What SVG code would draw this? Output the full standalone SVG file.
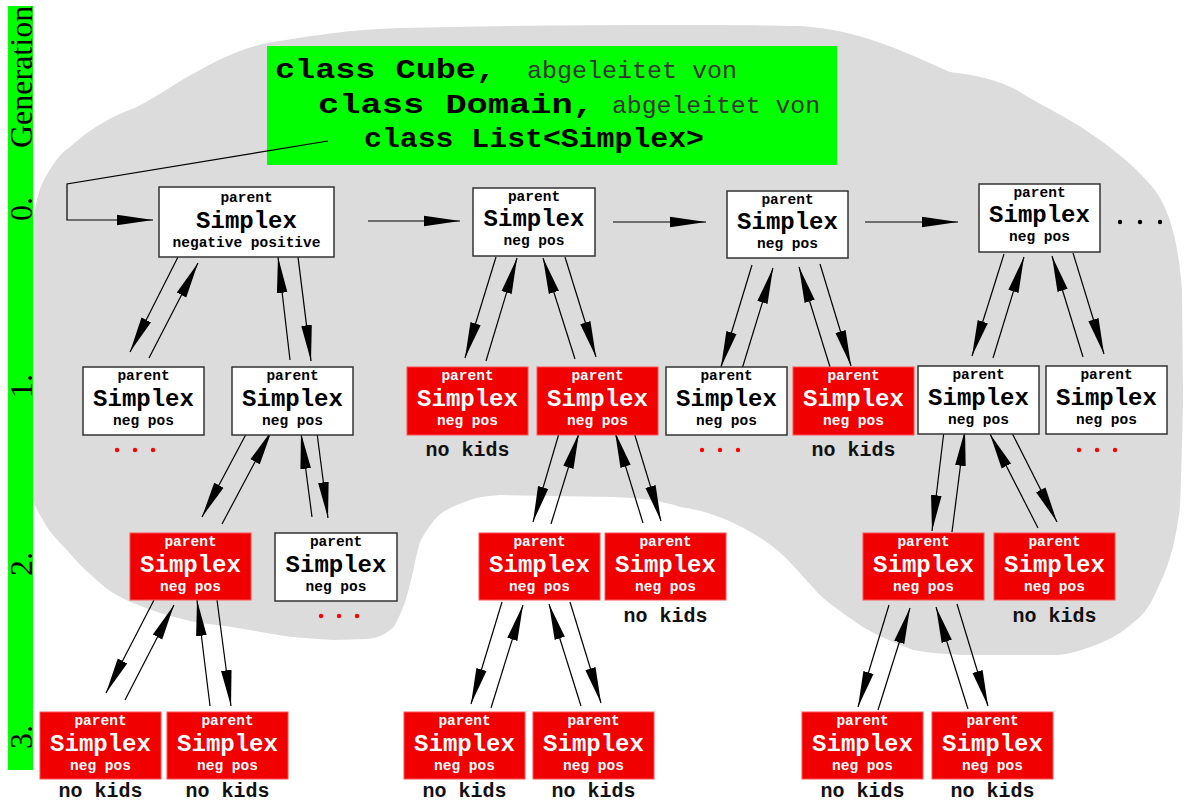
<svg xmlns="http://www.w3.org/2000/svg" width="1184" height="802" viewBox="0 0 1184 802">
<style>
.nw{fill:#fff;stroke:#333;stroke-width:1.5}
.nr{fill:#f00000;stroke:#ff5050;stroke-width:1}
.tp{font-family:"Liberation Mono",monospace;font-weight:bold;font-size:14.5px;text-anchor:middle}
.ts{font-family:"Liberation Mono",monospace;font-weight:bold;font-size:24px;text-anchor:middle}
.w{fill:#fff}
.k{fill:#000}
.nk{font-family:"Liberation Mono",monospace;font-weight:bold;font-size:20px;text-anchor:middle;fill:#111}
.gen{font-family:"Liberation Serif",serif;font-size:32px;fill:#000}
.hb{font-family:"Liberation Mono",monospace;font-weight:bold;font-size:28px;fill:#000}
.hn{font-family:"Liberation Mono",monospace;font-size:24px;fill:#333}
.c line,.c polyline{stroke:#000;stroke-width:1.2;fill:none;marker-end:url(#ah)}
.rd{fill:#f00}
</style>
<defs>
<marker id="ah" markerUnits="userSpaceOnUse" markerWidth="36" markerHeight="12" refX="34" refY="5" orient="auto" viewBox="0 0 34 10">
<path d="M0,0 L34,5 L0,10 Z" fill="#000"/>
</marker>
</defs>
<rect width="1184" height="802" fill="#fff"/>
<path id="blob" fill="#dcdcdc" d="M33,500 L33,222 C36,200 40,186 45,178 C55,160 62,152 70,147 C95,125 115,115 135,108 C160,95 180,80 200,70 C225,56 245,48 267,43 C300,38 340,30 400,28 C520,25 700,24 800,26 C860,30 900,50 950,72 C975,75 1000,80 1020,92 C1040,105 1070,118 1100,140 C1125,158 1140,172 1155,190 C1170,212 1178,240 1182,290 L1183,400 C1182,450 1181,480 1180,507 C1176,540 1170,560 1165,572 C1155,595 1150,607 1140,617 C1125,630 1115,637 1105,641 C1085,650 1070,654 1057,655 L963,655 C940,654 925,652 913,650 C895,643 878,636 863,627 C845,615 833,606 823,598 C810,585 805,578 797,570 C780,550 765,540 747,530 C720,515 700,510 680,507 C660,500 640,498 613,497 L500,495 C488,496 478,497 470,500 C455,505 445,510 438,516 C430,525 425,532 420,542 C416,555 414,568 411,580 C407,598 402,612 395,625 C388,634 378,638 367,639 L333,640 C300,638 280,636 267,633 C240,628 220,625 200,623 C170,617 150,610 133,603 C115,595 108,590 100,583 C85,570 75,560 67,550 C55,538 48,530 43,520 C38,512 35,506 33,500 Z"/>
<g id="genbar">
<rect x="8" y="6" width="25" height="764" fill="#00ff00"/>
<text class="gen" transform="translate(32,148) rotate(-90)">Generation</text>
<text class="gen" transform="translate(32,221) rotate(-90)">0.</text>
<text class="gen" transform="translate(32,398) rotate(-90)">1.</text>
<text class="gen" transform="translate(32,576) rotate(-90)">2.</text>
<text class="gen" transform="translate(32,749) rotate(-90)">3.</text>
</g>
<g id="header">
<rect x="267" y="46" width="570" height="119" fill="#00ff00"/>
<text class="hb" x="275" y="78" textLength="221" lengthAdjust="spacingAndGlyphs">class Cube,</text>
<text class="hn" x="527" y="78" textLength="210" lengthAdjust="spacingAndGlyphs">abgeleitet von</text>
<text class="hb" x="318" y="113" textLength="276" lengthAdjust="spacingAndGlyphs">class Domain,</text>
<text class="hn" x="612" y="113" textLength="208" lengthAdjust="spacingAndGlyphs">abgeleitet von</text>
<text class="hb" x="364" y="147" textLength="340" lengthAdjust="spacingAndGlyphs">class List&lt;Simplex&gt;</text>
</g>
<g id="connectors" class="c">
<polyline points="328,141 67,184 67,220 153,220"/>
<line x1="368" y1="221" x2="460" y2="221"/>
<line x1="613" y1="222" x2="706" y2="222"/>
<line x1="865" y1="222" x2="958" y2="222"/>
<line x1="178" y1="257" x2="130" y2="352"/>
<line x1="149" y1="358" x2="198" y2="263"/>
<line x1="290" y1="360" x2="278" y2="257"/>
<line x1="298" y1="257" x2="311" y2="361"/>
<line x1="496" y1="257" x2="465" y2="358"/>
<line x1="486" y1="361" x2="517" y2="258"/>
<line x1="575" y1="359" x2="543" y2="258"/>
<line x1="565" y1="257" x2="596" y2="357"/>
<line x1="752" y1="265" x2="721" y2="367"/>
<line x1="742" y1="369" x2="773" y2="268"/>
<line x1="830" y1="367" x2="799" y2="267"/>
<line x1="820" y1="264" x2="851" y2="366"/>
<line x1="1004" y1="254" x2="972" y2="356"/>
<line x1="993" y1="358" x2="1024" y2="257"/>
<line x1="1083" y1="357" x2="1052" y2="256"/>
<line x1="1073" y1="253" x2="1104" y2="354"/>
<line x1="252" y1="423" x2="202" y2="517"/>
<line x1="222" y1="524" x2="272" y2="430"/>
<line x1="312" y1="517" x2="301" y2="433"/>
<line x1="317" y1="433" x2="328" y2="518"/>
<line x1="560" y1="430" x2="533" y2="522"/>
<line x1="551" y1="524" x2="579" y2="433"/>
<line x1="643" y1="523" x2="615" y2="432"/>
<line x1="633" y1="429" x2="661" y2="521"/>
<line x1="944" y1="431" x2="932" y2="531"/>
<line x1="952" y1="532" x2="965" y2="430"/>
<line x1="1038" y1="528" x2="990" y2="434"/>
<line x1="1009" y1="427" x2="1057" y2="522"/>
<line x1="154" y1="600" x2="106" y2="693"/>
<line x1="125" y1="700" x2="174" y2="605"/>
<line x1="210" y1="706" x2="197" y2="600"/>
<line x1="217" y1="600" x2="231" y2="706"/>
<line x1="502" y1="602" x2="471" y2="704"/>
<line x1="491" y1="708" x2="523" y2="605"/>
<line x1="581" y1="706" x2="549" y2="604"/>
<line x1="570" y1="602" x2="601" y2="703"/>
<line x1="889" y1="605" x2="858" y2="707"/>
<line x1="878" y1="710" x2="910" y2="608"/>
<line x1="968" y1="709" x2="936" y2="607"/>
<line x1="957" y1="604" x2="988" y2="706"/>
</g>
<!-- Generation 0 -->
<g id="g0a"><rect class="nw" x="159" y="187" width="175" height="70"/>
<text class="tp k" x="246.5" y="202">parent</text><text class="ts k" x="246.5" y="228">Simplex</text><text class="tp k" x="246.5" y="247">negative positive</text></g>
<g id="g0b"><rect class="nw" x="473" y="188" width="122" height="68"/>
<text class="tp k" x="534" y="201">parent</text><text class="ts k" x="534" y="226">Simplex</text><text class="tp k" x="534" y="245">neg pos</text></g>
<g id="g0c"><rect class="nw" x="727" y="191" width="121" height="67"/>
<text class="tp k" x="787.5" y="204">parent</text><text class="ts k" x="787.5" y="229">Simplex</text><text class="tp k" x="787.5" y="248">neg pos</text></g>
<g id="g0d"><rect class="nw" x="979" y="184" width="121" height="68"/>
<text class="tp k" x="1039.5" y="197">parent</text><text class="ts k" x="1039.5" y="222">Simplex</text><text class="tp k" x="1039.5" y="241">neg pos</text></g>
<g id="more0"><circle cx="1120" cy="222" r="2.2"/><circle cx="1140" cy="222" r="2.2"/><circle cx="1160" cy="222" r="2.2"/></g>
<!-- Generation 1 -->
<g id="g1a"><rect class="nw" x="83" y="367" width="121" height="68"/>
<text class="tp k" x="143.5" y="380">parent</text><text class="ts k" x="143.5" y="406">Simplex</text><text class="tp k" x="143.5" y="425">neg pos</text>
<circle class="rd" cx="117" cy="450" r="2.2"/><circle class="rd" cx="135" cy="450" r="2.2"/><circle class="rd" cx="153" cy="450" r="2.2"/></g>
<g id="g1b"><rect class="nw" x="232" y="367" width="121" height="68"/>
<text class="tp k" x="292.5" y="380">parent</text><text class="ts k" x="292.5" y="406">Simplex</text><text class="tp k" x="292.5" y="425">neg pos</text></g>
<g id="g1c"><rect class="nr" x="407" y="367" width="121" height="68"/>
<text class="tp w" x="467.5" y="380">parent</text><text class="ts w" x="467.5" y="406">Simplex</text><text class="tp w" x="467.5" y="425">neg pos</text>
<text class="nk" x="467.5" y="456">no kids</text></g>
<g id="g1d"><rect class="nr" x="537" y="367" width="121" height="68"/>
<text class="tp w" x="597.5" y="380">parent</text><text class="ts w" x="597.5" y="406">Simplex</text><text class="tp w" x="597.5" y="425">neg pos</text></g>
<g id="g1e"><rect class="nw" x="666" y="367" width="121" height="68"/>
<text class="tp k" x="726.5" y="380">parent</text><text class="ts k" x="726.5" y="406">Simplex</text><text class="tp k" x="726.5" y="425">neg pos</text>
<circle class="rd" cx="702" cy="450" r="2.2"/><circle class="rd" cx="720" cy="450" r="2.2"/><circle class="rd" cx="738" cy="450" r="2.2"/></g>
<g id="g1f"><rect class="nr" x="793" y="367" width="121" height="68"/>
<text class="tp w" x="853.5" y="380">parent</text><text class="ts w" x="853.5" y="406">Simplex</text><text class="tp w" x="853.5" y="425">neg pos</text>
<text class="nk" x="853.5" y="456">no kids</text></g>
<g id="g1g"><rect class="nw" x="918" y="366" width="121" height="68"/>
<text class="tp k" x="978.5" y="379">parent</text><text class="ts k" x="978.5" y="405">Simplex</text><text class="tp k" x="978.5" y="424">neg pos</text></g>
<g id="g1h"><rect class="nw" x="1046" y="366" width="121" height="68"/>
<text class="tp k" x="1106.5" y="379">parent</text><text class="ts k" x="1106.5" y="405">Simplex</text><text class="tp k" x="1106.5" y="424">neg pos</text>
<circle class="rd" cx="1079" cy="450" r="2.2"/><circle class="rd" cx="1097" cy="450" r="2.2"/><circle class="rd" cx="1115" cy="450" r="2.2"/></g>
<!-- Generation 2 -->
<g id="g2a"><rect class="nr" x="130" y="533" width="121" height="67"/>
<text class="tp w" x="190.5" y="546">parent</text><text class="ts w" x="190.5" y="572">Simplex</text><text class="tp w" x="190.5" y="591">neg pos</text></g>
<g id="g2b"><rect class="nw" x="275" y="533" width="122" height="68"/>
<text class="tp k" x="336" y="546">parent</text><text class="ts k" x="336" y="572">Simplex</text><text class="tp k" x="336" y="591">neg pos</text>
<circle class="rd" cx="321" cy="616" r="2.2"/><circle class="rd" cx="339" cy="616" r="2.2"/><circle class="rd" cx="357" cy="616" r="2.2"/></g>
<g id="g2c"><rect class="nr" x="479" y="533" width="121" height="67"/>
<text class="tp w" x="539.5" y="546">parent</text><text class="ts w" x="539.5" y="572">Simplex</text><text class="tp w" x="539.5" y="591">neg pos</text></g>
<g id="g2d"><rect class="nr" x="605" y="533" width="121" height="67"/>
<text class="tp w" x="665.5" y="546">parent</text><text class="ts w" x="665.5" y="572">Simplex</text><text class="tp w" x="665.5" y="591">neg pos</text>
<text class="nk" x="665.5" y="622">no kids</text></g>
<g id="g2e"><rect class="nr" x="863" y="533" width="121" height="67"/>
<text class="tp w" x="923.5" y="546">parent</text><text class="ts w" x="923.5" y="572">Simplex</text><text class="tp w" x="923.5" y="591">neg pos</text></g>
<g id="g2f"><rect class="nr" x="994" y="533" width="121" height="67"/>
<text class="tp w" x="1054.5" y="546">parent</text><text class="ts w" x="1054.5" y="572">Simplex</text><text class="tp w" x="1054.5" y="591">neg pos</text>
<text class="nk" x="1054.5" y="622">no kids</text></g>
<!-- Generation 3 -->
<g id="g3a"><rect class="nr" x="40" y="712" width="121" height="67"/>
<text class="tp w" x="100.5" y="725">parent</text><text class="ts w" x="100.5" y="751">Simplex</text><text class="tp w" x="100.5" y="770">neg pos</text>
<text class="nk" x="100.5" y="797">no kids</text></g>
<g id="g3b"><rect class="nr" x="167" y="712" width="121" height="67"/>
<text class="tp w" x="227.5" y="725">parent</text><text class="ts w" x="227.5" y="751">Simplex</text><text class="tp w" x="227.5" y="770">neg pos</text>
<text class="nk" x="227.5" y="797">no kids</text></g>
<g id="g3c"><rect class="nr" x="404" y="712" width="121" height="67"/>
<text class="tp w" x="464.5" y="725">parent</text><text class="ts w" x="464.5" y="751">Simplex</text><text class="tp w" x="464.5" y="770">neg pos</text>
<text class="nk" x="464.5" y="797">no kids</text></g>
<g id="g3d"><rect class="nr" x="533" y="712" width="121" height="67"/>
<text class="tp w" x="593.5" y="725">parent</text><text class="ts w" x="593.5" y="751">Simplex</text><text class="tp w" x="593.5" y="770">neg pos</text>
<text class="nk" x="593.5" y="797">no kids</text></g>
<g id="g3e"><rect class="nr" x="802" y="712" width="121" height="67"/>
<text class="tp w" x="862.5" y="725">parent</text><text class="ts w" x="862.5" y="751">Simplex</text><text class="tp w" x="862.5" y="770">neg pos</text>
<text class="nk" x="862.5" y="797">no kids</text></g>
<g id="g3f"><rect class="nr" x="932" y="712" width="121" height="67"/>
<text class="tp w" x="992.5" y="725">parent</text><text class="ts w" x="992.5" y="751">Simplex</text><text class="tp w" x="992.5" y="770">neg pos</text>
<text class="nk" x="992.5" y="797">no kids</text></g>
</svg>
